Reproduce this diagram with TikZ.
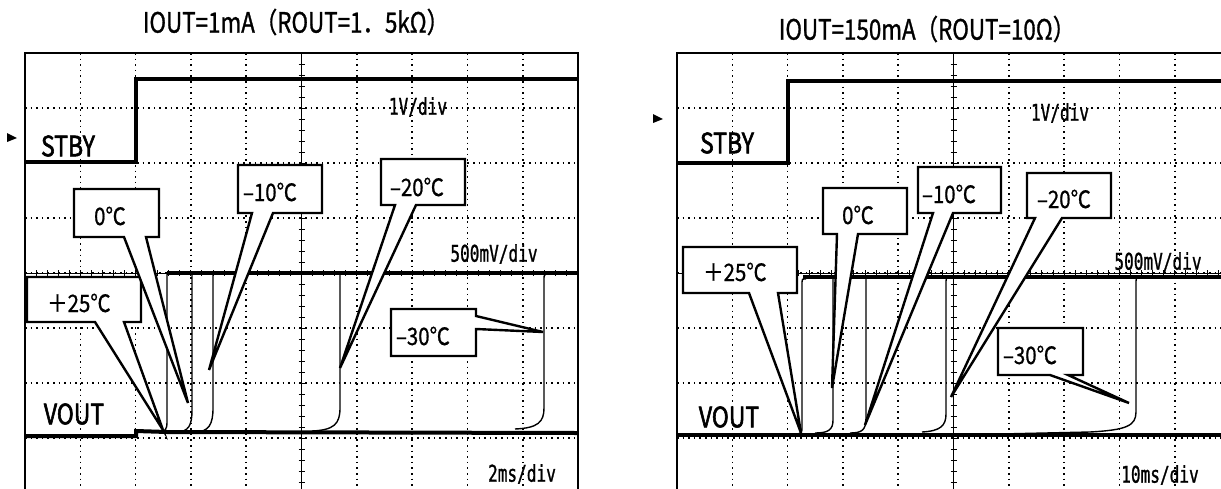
\documentclass[tikz,border=0pt]{standalone}
\usepackage{fontspec}
\usepackage{tikz}
\newfontfamily\titlefont[FakeStretch=0.8, FakeBold=1]{Noto Sans CJK JP}
\newfontfamily\sigfont[FakeStretch=0.82, FakeBold=2]{Noto Sans CJK JP}
\newfontfamily\jpfont[FakeStretch=0.85, FakeBold=0.8]{Noto Sans CJK JP}
\newfontfamily\divfont[FakeStretch=0.7, FakeBold=1]{DejaVu Sans Mono}

\tikzset{
  gridline/.style={line width=0.8pt, dash pattern=on 0.8pt off 2pt},
  axisline/.style={line width=0.5pt},
  frameline/.style={line width=1.1pt},
  trace/.style={line width=2pt},
  riseline/.style={line width=0.7pt},
  calloutbox/.style={draw, fill=white, line width=1.2pt, line join=miter},
  scopetitle/.style={font=\titlefont\fontsize{14}{16}\selectfont},
  siglabel/.style={font=\sigfont\fontsize{14}{16}\selectfont},
  templabel/.style={font=\jpfont\fontsize{12}{14}\selectfont},
  divlabel/.style={font=\divfont\fontsize{11.5}{13}\selectfont},
}

% one screen: frame, dotted grid, centre axes with ticks
\newcommand{\scopegrid}[1]{%
  \foreach \i in {1,...,9}
    \draw[gridline] ({#1+55.3*\i},53) -- ({#1+55.3*\i},493);
  \foreach \j in {1,...,7}
    \draw[gridline] (#1,{53+55*\j}) -- ({#1+553},{53+55*\j});
  \draw[axisline] ({#1+276.5},53) -- ({#1+276.5},493);
  \foreach \k in {1,...,39}
    \draw[axisline] ({#1+273.5},{53+11*\k}) -- ({#1+279.5},{53+11*\k});
  \draw[axisline] (#1,273) -- ({#1+553},273);
  \foreach \k in {1,...,49}
    \draw[axisline] ({#1+11.06*\k},270) -- ({#1+11.06*\k},276);
  \draw[frameline] (#1,53) rectangle ({#1+553},493);
}

\begin{document}
\begin{tikzpicture}[x=0.5pt, y=-0.5pt]
    \useasboundingbox (0,0) rectangle (1221,488);
    \clip (0,0) rectangle (1221,488);

    % left screen, IOUT=1mA
    \scopegrid{25}
    \fill (7,133) -- (17,138) -- (7,142) -- cycle;
    \draw[trace] (25,162) -- (136,162) -- (136,79) -- (578,79);
    \draw[trace] (25,436) -- (136,436) -- (136,431) -- (167,432) -- (578,433);
    \draw[trace] (167,273) -- (578,273);
    \draw[riseline] (158,432) .. controls (165,432) and (167,430) .. (167,422) -- (167,273);
    \draw[riseline] (176,432) .. controls (189,432) and (192,425) .. (192,410) -- (192,273);
    \draw[riseline] (195,432) .. controls (209,432) and (213,424) .. (213,408) -- (213,273);
    \draw[riseline] (312,431) .. controls (334,430) and (340,424) .. (340,408) -- (340,273);
    \draw[riseline] (515,429) .. controls (538,428) and (544,422) .. (544,408) -- (544,279) .. controls (544,275) .. (548,273);

    \draw[calloutbox] (27,277) -- (141,277) -- (141,322) -- (124,322) -- (163,430) -- (95,322) -- (27,322) -- cycle;
    \draw[calloutbox] (74,189) -- (159,189) -- (159,237) -- (146,237) -- (188,403) -- (124,237) -- (74,237) -- cycle;
    \draw[calloutbox] (238,165) -- (322,165) -- (322,213) -- (273,213) -- (209,370) -- (252,213) -- (238,213) -- cycle;
    \draw[calloutbox] (381,159) -- (465,159) -- (465,205) -- (416,205) -- (340,368) -- (395,205) -- (381,205) -- cycle;
    \draw[calloutbox] (391,309) -- (476,309) -- (476,316) -- (543,332) -- (476,329) -- (476,356) -- (391,356) -- cycle;

    \node[scopetitle] (title1) at (296,22) {IOUT=1mA（ROUT=1．5kΩ）};
    \node[siglabel] (stby1) at (68,146) {STBY};
    \node[siglabel] (vout1) at (74,414) {VOUT};
    \node[divlabel] (volt1) at (418,107) {1V/div};
    \node[divlabel] (mvolt1) at (494,254) {500mV/div};
    \node[divlabel] (time1) at (522,474) {2ms/div};
    \node[templabel] (t25a) at (79,303) {＋25℃};
    \node[templabel] (t0a) at (110,216) {0℃};
    \node[templabel] (t10a) at (270,192) {–10℃};
    \node[templabel] (t20a) at (417,187) {–20℃};
    \node[templabel] (t30a) at (423,336) {–30℃};

    % right screen, IOUT=150mA
    \scopegrid{677}
    \fill (653,114) -- (663,119) -- (653,123) -- cycle;
    \draw[trace] (677,163) -- (788,163) -- (788,81) -- (1232,81);
    \draw[trace] (677,435) -- (1232,435);
    \draw[trace] (803,277) -- (1232,277);
    \draw[riseline] (798,434) .. controls (801,434) and (802,432) .. (802,428) -- (802,282) .. controls (802,279) .. (806,279);
    \draw[riseline] (815,433) .. controls (828,433) and (833,430) .. (833,420) -- (833,277);
    \draw[riseline] (850,433) .. controls (862,433) and (866,430) .. (866,418) -- (866,277);
    \draw[riseline] (922,432) .. controls (940,431) and (946,426) .. (946,414) -- (946,281) .. controls (946,278) .. (950,277);
    \draw[riseline] (1000,434) -- (1090,432) .. controls (1126,430) and (1136,426) .. (1136,412) -- (1136,281) .. controls (1136,278) .. (1140,277);

    \draw[calloutbox] (683,247) -- (797,247) -- (797,293) -- (778,293) -- (801,433) -- (749,293) -- (683,293) -- cycle;
    \draw[calloutbox] (823,188) -- (907,188) -- (907,234) -- (858,234) -- (832,388) -- (837,234) -- (823,234) -- cycle;
    \draw[calloutbox] (918,167) -- (1001,167) -- (1001,213) -- (953,213) -- (865,425) -- (933,213) -- (918,213) -- cycle;
    \draw[calloutbox] (1027,173) -- (1111,173) -- (1111,218) -- (1062,218) -- (951,397) -- (1035,218) -- (1027,218) -- cycle;
    \draw[calloutbox] (998,328) -- (1083,328) -- (1083,375) -- (1068,375) -- (1129,403) -- (1050,375) -- (998,375) -- cycle;

    \node[scopetitle] (title2) at (927,29) {IOUT=150mA（ROUT=10Ω）};
    \node[siglabel] (stby2) at (727,143) {STBY};
    \node[siglabel] (vout2) at (729,417) {VOUT};
    \node[divlabel] (volt2) at (1060,113) {1V/div};
    \node[divlabel] (mvolt2) at (1158,262) {500mV/div};
    \node[divlabel] (time2) at (1160,475) {10ms/div};
    \node[templabel] (t25b) at (735,272) {＋25℃};
    \node[templabel] (t0b) at (858,215) {0℃};
    \node[templabel] (t10b) at (949,194) {–10℃};
    \node[templabel] (t20b) at (1064,199) {–20℃};
    \node[templabel] (t30b) at (1030,355) {–30℃};
\end{tikzpicture}
\end{document}
